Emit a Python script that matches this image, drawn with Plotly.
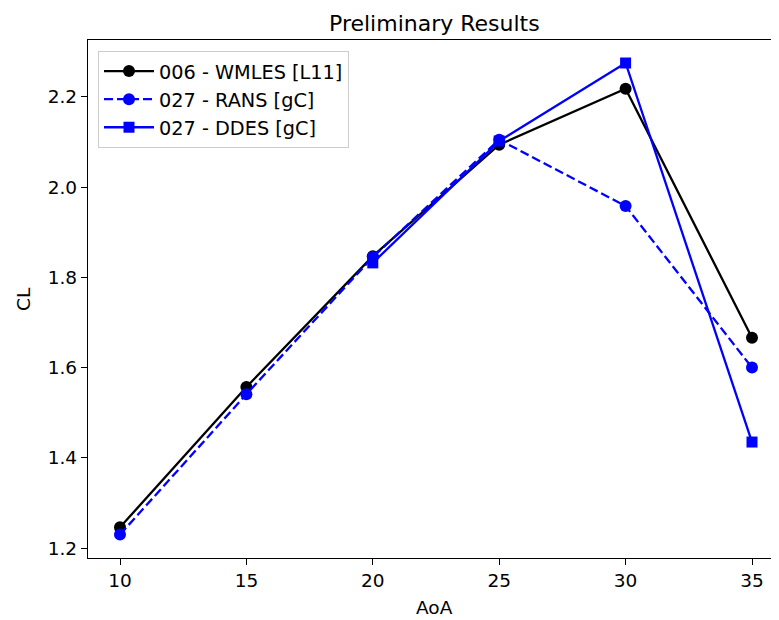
import plotly.graph_objects as go

aoa = [10, 15, 20, 25, 30, 35]
cl_wmles = [1.246, 1.557, 1.847, 2.094, 2.218, 1.666]
cl_rans = [1.230, 1.541, 1.845, 2.105, 1.958, 1.600]
aoa_ddes = [20, 25, 30, 35]
cl_ddes = [1.832, 2.102, 2.275, 1.435]

x_ticks = [10, 15, 20, 25, 30, 35]
y_ticks = [1.2, 1.4, 1.6, 1.8, 2.0, 2.2]

FONT = "DejaVu Sans"
FS = 18.5

# The page body has an 8px margin, so the figure is drawn at (8, 8).
OFF = 8
W, H = 779 - OFF, 620 - OFF
ML, MR, MT, MB = 88 - OFF, 0, 40 - OFF, 620 - 558

fig = go.Figure()
fig.add_trace(go.Scatter(x=aoa, y=cl_wmles, mode="lines+markers", name="006 - WMLES [L11]",
                         line=dict(color="#000000", width=2.3),
                         marker=dict(symbol="circle", size=12, color="#000000")))
fig.add_trace(go.Scatter(x=aoa, y=cl_rans, mode="lines+markers", name="027 - RANS [gC]",
                         line=dict(color="#0000ff", width=2.3, dash="9px,4px"),
                         marker=dict(symbol="circle", size=12, color="#0000ff")))
fig.add_trace(go.Scatter(x=aoa_ddes, y=cl_ddes, mode="lines+markers", name="027 - DDES [gC]",
                         line=dict(color="#0000ff", width=2.3),
                         marker=dict(symbol="square", size=11, color="#0000ff")))

pw = W - ML - MR
ph = H - MT - MB

def px(x):
    return (x - OFF - ML) / pw

def py(y):
    return (H - MB - (y - OFF)) / ph

fig.update_layout(
    width=W, height=H,
    margin=dict(l=ML, r=MR, t=MT, b=MB, autoexpand=False),
    plot_bgcolor="white", paper_bgcolor="white",
    font=dict(family=FONT, size=FS, color="#000000"),
    showlegend=True,
    legend=dict(x=px(98), y=py(51), xanchor="left", yanchor="top",
                bgcolor="rgba(255,255,255,0.8)", bordercolor="#cccccc", borderwidth=1,
                font=dict(family=FONT, size=19.3, color="#000000"),
                itemwidth=50, tracegroupgap=0),
    xaxis=dict(range=[8.734, 36.068], tickvals=x_ticks, ticktext=[str(v) for v in x_ticks],
               showgrid=False, zeroline=False, showline=True, linecolor="#000000", linewidth=1.3,
               mirror=True, ticks="outside", ticklen=6, tickwidth=1.3, tickcolor="#000000",
               tickfont=dict(family=FONT, size=FS, color="#000000")),
    yaxis=dict(range=[1.178, 2.326], tickvals=y_ticks, ticktext=[f"{v:.1f}" for v in y_ticks],
               showgrid=False, zeroline=False, showline=True, linecolor="#000000", linewidth=1.3,
               mirror=False, ticks="outside", ticklen=6, tickwidth=1.3, tickcolor="#000000",
               tickfont=dict(family=FONT, size=FS, color="#000000")),
)
fig.add_annotation(text="Preliminary Results", x=px(435), y=py(9), xref="paper", yref="paper",
                   showarrow=False, xanchor="center", yanchor="top",
                   font=dict(family=FONT, size=22, color="#000000"))
fig.add_annotation(text="AoA", x=px(435), y=py(607), xref="paper", yref="paper",
                   showarrow=False, xanchor="center", yanchor="middle",
                   font=dict(family=FONT, size=FS, color="#000000"))
fig.add_annotation(text="CL", x=px(23), y=py(299), xref="paper", yref="paper",
                   showarrow=False, xanchor="center", yanchor="middle", textangle=-90,
                   font=dict(family=FONT, size=FS, color="#000000"))

fig.write_html("out.html")
